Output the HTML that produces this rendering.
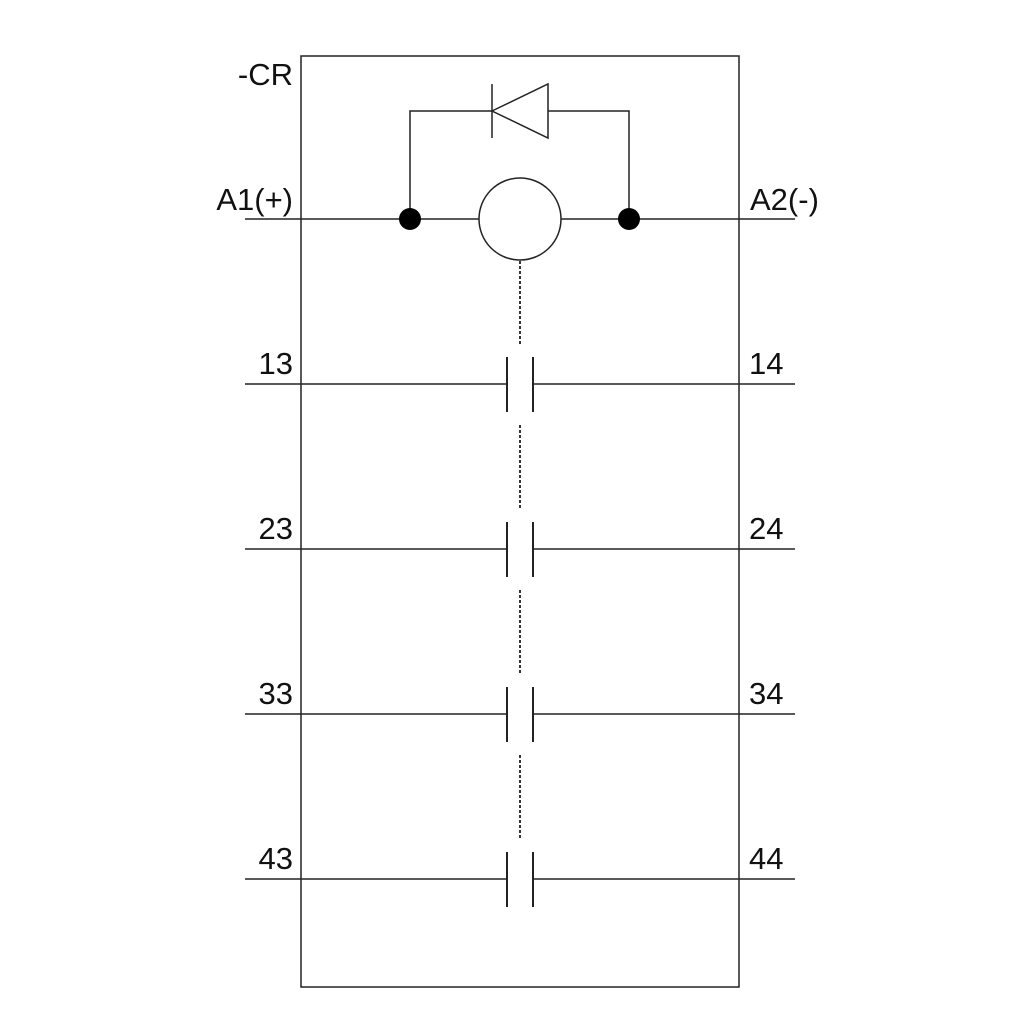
<!DOCTYPE html>
<html><head><meta charset="utf-8"><style>html,body{margin:0;padding:0;background:#fff}svg{display:block}</style></head>
<body>
<svg width="1024" height="1024" viewBox="0 0 1024 1024" xmlns="http://www.w3.org/2000/svg">
<rect width="1024" height="1024" fill="#fff"/>
<g fill="none" stroke="#222" stroke-width="1.5">
<rect x="301" y="56" width="438" height="931"/>
<line x1="245" y1="219" x2="479" y2="219"/>
<line x1="561" y1="219" x2="795" y2="219"/>
<circle cx="520" cy="219" r="41"/>
<polyline points="410,219 410,111 492,111"/>
<polyline points="548,111 629,111 629,219"/>
<line x1="492" y1="84" x2="492" y2="138"/>
<polygon points="492,111 548,84 548,138"/>
<g id="c">
<line x1="245" y1="384" x2="507" y2="384"/>
<line x1="533" y1="384" x2="795" y2="384"/>
<line x1="507" y1="357" x2="507" y2="412" stroke-width="2"/>
<line x1="533" y1="357" x2="533" y2="412" stroke-width="2"/>
</g>
<use href="#c" y="165"/>
<use href="#c" y="330"/>
<use href="#c" y="495"/>
<g stroke-dasharray="3,2" stroke="#333" stroke-width="2">
<line x1="520" y1="261" x2="520" y2="345"/>
<line x1="520" y1="425" x2="520" y2="510"/>
<line x1="520" y1="590" x2="520" y2="673"/>
<line x1="520" y1="755" x2="520" y2="838"/>
</g>
</g>
<circle cx="410" cy="219" r="11" fill="#000"/>
<circle cx="629" cy="219" r="11" fill="#000"/>
<g font-family="Liberation Sans, sans-serif" font-size="31" fill="#111">
<text x="293" y="85" text-anchor="end">-CR</text>
<text x="293" y="210" text-anchor="end">A1(+)</text>
<text x="750" y="210">A2(-)</text>
<text x="293" y="374" text-anchor="end">13</text>
<text x="749" y="374">14</text>
<text x="293" y="539" text-anchor="end">23</text>
<text x="749" y="539">24</text>
<text x="293" y="704" text-anchor="end">33</text>
<text x="749" y="704">34</text>
<text x="293" y="869" text-anchor="end">43</text>
<text x="749" y="869">44</text>
</g>
</svg>
</body></html>
